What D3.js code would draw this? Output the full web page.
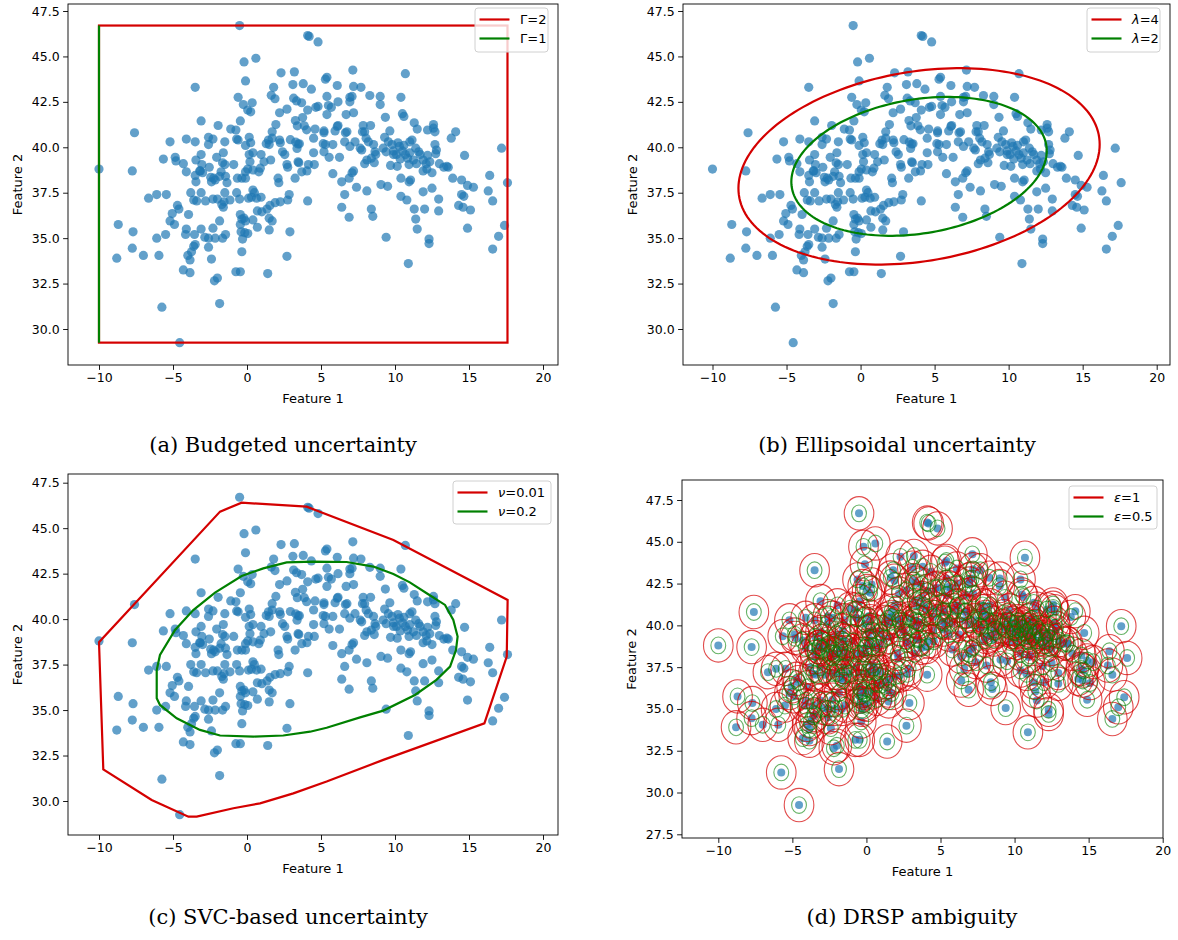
<!DOCTYPE html>
<html><head><meta charset="utf-8">
<script src="https://cdn.jsdelivr.net/npm/d3@7"></script>
<style>
body{margin:0;background:#fff}
svg{display:block}
</style>
</head><body>
<svg id="chart" width="1178" height="940"></svg>
<script>
// ---------------- data ----------------
// sample points [Feature 1, Feature 2]
const samples = [[-10.0,38.8],[-0.5,46.7],[4.1,46.15],[4.2,46.1],[4.8,45.8],[-0.2,44.7],[0.6,44.9],[10.7,44.05],[-3.5,43.3],[-0.1,43.65],[2.3,44.1],
[3.2,44.15],[5.4,43.85],[5.3,43.75],[7.15,44.25],[-0.6,42.75],[1.8,43.3],[3.1,43.45],[3.8,43.5],[4.35,43.2],[6.1,43.4],
[7.2,43.35],[7.7,43.3],[6.95,42.75],[6.95,42.5],[5.4,42.8],[9.0,42.8],[8.3,42.85],[10.4,42.75],[3.15,42.7],[3.35,42.55],
[-0.25,42.35],[0.35,42.45],[0.05,42.05],[0.25,41.95],[2.2,41.9],[2.7,42.1],[4.1,42.05],[4.65,42.2],[4.8,42.25],[5.5,42.3],
[6.15,42.5],[5.4,41.8],[6.7,41.8],[7.2,41.9],[9.0,42.35],[9.35,41.65],[10.5,41.85],[10.6,41.7],[11.3,41.35],[12.6,41.25],
[12.6,41.05],[12.2,40.95],[11.5,41.0],[14.1,40.85],[14.7,39.55],[17.2,39.95],[17.6,38.05],[16.4,38.45],[16.3,37.6],[16.6,37.05],
[17.4,35.7],[17.0,35.1],[16.6,34.4],[14.9,35.55],[15.1,36.55],[14.6,36.7],[14.3,36.8],[14.5,37.4],[14.65,37.3],[15.3,37.8],
[14.9,37.9],[14.5,38.2],[13.9,38.3],[12.95,37.15],[12.95,36.5],[12.0,36.6],[12.5,37.75],[11.9,37.55],[11.3,36.6],[11.5,35.5],
[12.3,34.95],[12.3,34.7],[10.9,33.6],[9.4,35.05],[11.4,36.05],[10.8,37.1],[10.4,37.3],[10.95,38.1],[11.05,38.2],[10.4,38.3],
[9.5,37.85],[9.05,37.95],[8.1,37.6],[7.4,37.8],[6.6,37.4],[6.4,36.7],[6.9,36.15],[8.4,36.6],[8.5,36.2],[6.4,38.1],
[7.1,38.6],[7.2,38.7],[6.9,38.3],[5.8,38.55],[4.1,37.05],[2.85,37.4],[2.9,35.35],[2.7,34.0],[1.4,33.05],[-0.35,34.25],
[-0.45,33.15],[-0.75,33.15],[-2.4,33.85],[-2.0,32.8],[-2.2,32.65],[-1.85,31.4],[-5.75,31.2],[-4.55,29.25],[-4.3,33.25],[-3.85,33.1],
[-3.85,33.8],[-3.75,34.25],[-3.6,34.55],[-3.5,34.65],[-4.0,34.05],[-5.95,34.05],[-7.0,34.05],[-7.75,34.45],[-8.8,33.9],[-7.7,35.35],
[-8.7,35.75],[-6.1,35.0],[-5.5,35.2],[-4.9,35.75],[-5.2,35.95],[-5.05,36.35],[-4.7,36.8],[-4.6,36.6],[-3.95,36.3],[-4.1,35.5],
[-4.15,35.2],[-3.55,35.2],[-3.1,35.5],[-2.85,35.05],[-2.6,35.0],[-2.6,34.5],[-2.15,35.0],[-2.3,35.55],[-1.85,35.95],[-1.45,35.2],
[-1.65,35.0],[-0.4,35.35],[-0.3,34.95],[-0.15,35.3],[0.05,35.25],[-0.45,35.75],[-0.35,36.05],[-0.2,36.1],[-0.45,36.3],[-0.1,35.95],
[0.4,36.0],[0.7,35.6],[1.5,35.45],[1.5,36.1],[1.7,35.95],[1.35,36.6],[1.55,36.8],[1.0,36.45],[0.7,36.5],[1.9,36.95],
[2.25,37.0],[2.75,37.1],[0.95,37.25],[0.65,37.2],[0.3,37.25],[0.1,37.2],[0.4,37.65],[0.5,37.5],[-0.5,37.15],[-0.7,37.5],
[-1.15,37.1],[-1.5,37.5],[-1.55,37.0],[-1.6,36.7],[-1.7,36.85],[-2.0,37.15],[-2.3,37.15],[-2.8,37.05],[-3.1,37.5],[-3.4,37.05],
[-3.6,37.1],[-3.8,37.5],[-3.45,38.1],[-3.2,38.7],[-3.5,38.45],[-4.1,38.65],[-4.3,39.1],[-4.85,39.45],[-5.65,39.35],[-6.1,37.4],
[-6.65,37.2],[-5.45,37.4],[-7.75,38.7],[-7.6,40.8],[-5.2,40.3],[-4.1,40.45],[-3.5,40.3],[-3.1,41.45],[-1.95,41.2],[-2.6,40.55],
[-2.3,40.45],[-2.6,40.15],[-1.5,40.3],[-1.1,41.0],[-0.7,40.45],[-0.6,40.4],[-0.45,41.45],[0.15,40.55],[0.25,40.25],[-0.1,40.1],
[0.4,39.7],[0.15,39.6],[-0.9,39.05],[-1.6,39.7],[-1.65,39.15],[-1.5,39.05],[-2.05,39.45],[-1.75,38.65],[-1.85,38.4],[-2.25,38.3],
[-2.45,38.35],[-2.55,38.9],[-3.05,39.05],[-3.15,38.7],[-3.0,38.6],[-3.1,39.6],[-3.45,39.3],[-2.4,38.1],[-2.15,38.2],[-1.45,38.4],
[-1.35,38.05],[-0.65,38.3],[-0.1,38.65],[0.05,38.8],[-0.1,38.3],[-0.35,38.3],[0.4,38.75],[0.8,38.65],[0.9,38.85],[0.2,39.2],
[0.95,39.6],[1.15,39.2],[1.6,39.3],[1.5,40.15],[1.3,40.2],[1.45,40.4],[1.7,40.5],[1.7,40.85],[1.95,41.25],[2.2,40.4],
[2.25,40.25],[2.4,39.75],[2.55,39.6],[2.7,39.05],[2.75,38.9],[2.1,38.3],[2.15,38.05],[3.25,38.3],[3.45,39.2],[3.5,39.15],
[3.7,38.65],[4.05,38.7],[4.15,39.05],[4.55,39.05],[4.5,39.7],[5.2,39.75],[5.55,39.45],[6.25,39.45],[5.3,40.15],[5.15,40.2],
[5.8,40.15],[4.5,40.5],[4.6,41.0],[5.2,40.9],[5.2,40.8],[5.95,40.9],[6.1,41.15],[6.15,41.2],[6.65,40.8],[6.6,40.3],
[6.75,40.85],[7.3,40.3],[6.95,40.05],[7.8,40.85],[7.95,40.85],[7.85,41.2],[8.35,41.2],[8.05,40.5],[8.2,40.3],[8.55,40.15],
[8.65,39.75],[8.7,39.6],[8.6,39.15],[8.4,39.4],[7.75,39.85],[7.65,39.95],[7.95,39.1],[8.1,39.3],[9.65,40.9],[9.2,39.95],
[9.4,39.75],[9.7,39.0],[9.9,39.6],[9.8,40.15],[10.3,40.05],[10.5,39.8],[10.7,39.6],[10.85,39.4],[11.0,40.3],[11.15,40.4],
[10.95,39.05],[11.25,39.3],[11.6,39.75],[11.7,39.6],[11.9,39.3],[12.1,39.1],[12.35,39.2],[11.9,38.7],[12.15,38.8],[12.5,38.6],
[12.75,39.65],[12.7,40.15],[12.8,39.85],[13.0,39.1],[13.3,38.9],[13.5,38.95],[13.6,38.9],[13.8,40.5],[12.7,40.85],
[-4.8,39.25],[1.64,42.86],[1.89,42.67],[3.69,42.45],[7.1,42.8],[5.7,42.2],[-0.75,40.95],[2.93,40.42],[3.29,40.29],[3.45,40.18],
[3.38,39.94],[3.27,41.47],[3.4,41.18],[3.76,41.64],[3.87,41.18],[3.54,40.19],[4.03,40.96],[9.9,39.8],[10.1,39.6],[10.2,40.25],
[10.6,40.1],[11.4,39.95],[10.35,39.35],[11.0,39.7],[11.45,39.1],[10.15,38.95],[9.55,40.3],[9.3,40.55],[12.2,39.55]];

const xTickValues = [-10, -5, 0, 5, 10, 15, 20];
const yTickValuesABC = [30, 32.5, 35, 37.5, 40, 42.5, 45, 47.5];
const yTickValuesD = [27.5, 30, 32.5, 35, 37.5, 40, 42.5, 45, 47.5];

// (b) ellipsoidal set parameters
const ellipseCenter = [3.95, 38.95];
const ellipseShape = [[37.2, 3.68], [3.68, 7.3]];
const ellipseLambdas = [4, 2];

// (c) SVC decision boundaries
const svcOuter = [[-10.0,38.73],[-9.71,31.74],[-6.44,30.06],[-3.96,29.14],[-3.4,29.14],[-0.92,29.6],[0.88,29.87],[3.13,30.42],[5.38,31.07],[9.21,32.26],[16.04,34.27],[17.55,37.94],[17.61,41.05],[9.89,44.35],[4.03,46.18],[-0.36,46.4],[-1.82,45.91]];
const svcInner = [[-6.1,35.65],[-6.1,37.2],[-5.88,38.03],[-4.86,39.4],[-3.63,40.5],[-2.16,41.46],[-0.36,42.37],[1.1,42.79],[2.68,43.12],[4.48,43.16],[6.73,43.14],[8.54,42.89],[9.89,42.48],[11.0,42.02],[12.14,41.42],[13.38,40.78],[13.94,39.95],[14.23,39.04],[14.12,38.3],[13.72,37.39],[12.8,36.66],[11.35,35.83],[9.21,34.97],[7.64,34.6],[5.38,34.03],[4.26,33.81],[2.45,33.6],[0.43,33.54],[-1.82,33.6],[-3.18,33.91],[-4.75,34.55],[-5.88,35.28]];

// (d) DRSP radii
const drspEps = [1, 0.5];

const legendA = ["Γ=2", "Γ=1"];
const legendB = [["λ", "=4"], ["λ", "=2"]];
const legendC = [["ν", "=0.01"], ["ν", "=0.2"]];
const legendD = [["ε", "=1"], ["ε", "=0.5"]];
const captions = ["(a) Budgeted uncertainty", "(b) Ellipsoidal uncertainty", "(c) SVC-based uncertainty", "(d) DRSP ambiguity"];

// ---------------- style / layout ----------------
const RED = "#d40000", GREEN = "#008000", BLUE = "#1f77b4";
const SANS = "'DejaVu Sans', sans-serif";
const svg = d3.select("#chart");
const layout = {
  a: {frame: [68, 4, 558, 365], xr: [99, 543], yr: [329, 11], yd: [30, 47.5], yt: yTickValuesABC},
  b: {frame: [683, 4, 1170, 365], xr: [712.5, 1156.7], yr: [329, 11], yd: [30, 47.5], yt: yTickValuesABC},
  c: {frame: [68, 474, 558, 835], xr: [99, 543], yr: [801, 482.7], yd: [30, 47.5], yt: yTickValuesABC},
  d: {frame: [682, 480, 1163, 838], xr: [718.3, 1162.7], yr: [834.3, 500], yd: [27.5, 47.5], yt: yTickValuesD}
};
const fmtX = d => String(d).replace("-", "\u2212");
const fmtY = d => d3.format(".1f")(d);

function panel(key) {
  const L = layout[key];
  const [l, t, r, b] = L.frame;
  const x = d3.scaleLinear().domain([-10, 20]).range(L.xr);
  const y = d3.scaleLinear().domain(L.yd).range(L.yr);
  const g = svg.append("g");
  svg.append("clipPath").attr("id", "clip" + key).append("rect")
    .attr("x", l).attr("y", t).attr("width", r - l).attr("height", b - t);
  const plot = g.append("g").attr("clip-path", `url(#clip${key})`);
  const ax = g.append("g").attr("transform", `translate(0,${b})`)
    .call(d3.axisBottom(x).tickValues(xTickValues).tickFormat(fmtX).tickSize(4.9).tickPadding(3.5));
  const ay = g.append("g").attr("transform", `translate(${l},0)`)
    .call(d3.axisLeft(y).tickValues(L.yt).tickFormat(fmtY).tickSize(4.9).tickPadding(3.5));
  [ax, ay].forEach(a => {
    a.select(".domain").remove();
    a.selectAll("line").attr("stroke", "#000").attr("stroke-width", 0.9);
    a.selectAll("text").attr("fill", "#000").style("font-family", SANS).style("font-size", "12.5px");
  });
  g.append("text").attr("x", (l + r) / 2).attr("y", b + 38).attr("text-anchor", "middle")
    .style("font-family", SANS).style("font-size", "13px").text("Feature 1");
  g.append("text").attr("transform", `translate(${l - 46},${(t + b) / 2}) rotate(-90)`)
    .attr("text-anchor", "middle").style("font-family", SANS).style("font-size", "13px").text("Feature 2");
  return {g, plot, x, y, L};
}

function frame(P) {
  const [l, t, r, b] = P.L.frame;
  P.g.append("rect").attr("x", l).attr("y", t).attr("width", r - l).attr("height", b - t)
    .attr("fill", "none").attr("stroke", "#000").attr("stroke-width", 0.9);
}

function scatter(P, rad) {
  P.plot.append("g").selectAll("circle").data(samples).join("circle")
    .attr("cx", d => P.x(d[0])).attr("cy", d => P.y(d[1])).attr("r", rad)
    .attr("fill", BLUE).attr("fill-opacity", 0.7);
}

function legend(P, box, entries, colors, labelFn) {
  const [bx, by, bw, bh] = box;
  const lg = P.g.append("g");
  lg.append("rect").attr("x", bx).attr("y", by).attr("width", bw).attr("height", bh)
    .attr("rx", 3).attr("fill", "#fff").attr("fill-opacity", 0.8).attr("stroke", "#d0d0d0").attr("stroke-width", 1);
  entries.forEach((e, i) => {
    const cy = by + 11.5 + i * 19;
    lg.append("line").attr("x1", bx + 4.5).attr("x2", bx + 34.5).attr("y1", cy).attr("y2", cy)
      .attr("stroke", colors[i]).attr("stroke-width", 2.2);
    const t = lg.append("text").attr("x", bx + 45).attr("y", cy + 4.6)
      .style("font-family", SANS).style("font-size", "13px");
    labelFn(t, e);
  });
}
const mathLabel = (t, e) => {
  t.append("tspan").style("font-style", "italic").text(e[0]);
  t.append("tspan").text(e[1]);
};

// ---------------- (a) budgeted ----------------
{
  const P = panel("a");
  scatter(P, 4.6);
  const xe = d3.extent(samples, d => d[0]), ye = d3.extent(samples, d => d[1]);
  P.plot.append("rect").attr("x", P.x(xe[0])).attr("y", P.y(ye[1]))
    .attr("width", P.x(xe[1]) - P.x(xe[0])).attr("height", P.y(ye[0]) - P.y(ye[1]))
    .attr("fill", "none").attr("stroke", RED).attr("stroke-width", 2.2);
  P.plot.append("line").attr("x1", P.x(xe[0])).attr("x2", P.x(xe[0]))
    .attr("y1", P.y(ye[0])).attr("y2", P.y(ye[1])).attr("stroke", GREEN).attr("stroke-width", 2.2);
  frame(P);
  legend(P, [475, 8, 73, 44], legendA, [RED, GREEN], (t, e) => t.text(e));
}

// ---------------- (b) ellipsoidal ----------------
{
  const P = panel("b");
  scatter(P, 4.6);
  const line = d3.line().x(d => P.x(d[0])).y(d => P.y(d[1]));
  const angles = d3.range(0, 361, 2).map(a => a * Math.PI / 180);
  ellipseLambdas.forEach((lam, i) => {
    const sxx = lam * ellipseShape[0][0], sxy = lam * ellipseShape[0][1], syy = lam * ellipseShape[1][1];
    const a11 = Math.sqrt(sxx), a21 = sxy / a11, a22 = Math.sqrt(syy - a21 * a21);
    const pts = angles.map(t => [ellipseCenter[0] + a11 * Math.cos(t), ellipseCenter[1] + a21 * Math.cos(t) + a22 * Math.sin(t)]);
    P.plot.append("path").attr("d", line(pts)).attr("fill", "none")
      .attr("stroke", i === 0 ? RED : GREEN).attr("stroke-width", 2.2);
  });
  frame(P);
  legend(P, [1087, 8, 73, 44], legendB, [RED, GREEN], mathLabel);
}

// ---------------- (c) SVC ----------------
{
  const P = panel("c");
  scatter(P, 4.6);
  const line = d3.line().x(d => P.x(d[0])).y(d => P.y(d[1])).curve(d3.curveLinearClosed);
  P.plot.append("path").attr("d", line(svcOuter)).attr("fill", "none").attr("stroke", RED).attr("stroke-width", 2.2);
  P.plot.append("path").attr("d", line(svcInner)).attr("fill", "none").attr("stroke", GREEN).attr("stroke-width", 2.2);
  frame(P);
  legend(P, [453, 481, 98, 43], legendC, [RED, GREEN], mathLabel);
}

// ---------------- (d) DRSP ----------------
{
  const P = panel("d");
  scatter(P, 4.0);
  drspEps.forEach((eps, i) => {
    P.plot.append("g").selectAll("ellipse").data(samples).join("ellipse")
      .attr("cx", d => P.x(d[0])).attr("cy", d => P.y(d[1]))
      .attr("rx", P.x(eps) - P.x(0)).attr("ry", P.y(0) - P.y(eps))
      .attr("fill", "none").attr("stroke", i === 0 ? RED : GREEN)
      .attr("stroke-opacity", i === 0 ? 0.7 : 0.6).attr("stroke-width", 1.1);
  });
  frame(P);
  legend(P, [1069, 486, 88, 43], legendD, [RED, GREEN], mathLabel);
}

// ---------------- captions ----------------
const capPos = [[283, 452], [897, 452], [288, 924], [912, 924]];
captions.forEach((c, i) => {
  svg.append("text").attr("x", capPos[i][0]).attr("y", capPos[i][1]).attr("text-anchor", "middle")
    .style("font-family", "'DejaVu Serif', serif").style("font-size", "21px").text(c);
});
</script>
</body></html>
